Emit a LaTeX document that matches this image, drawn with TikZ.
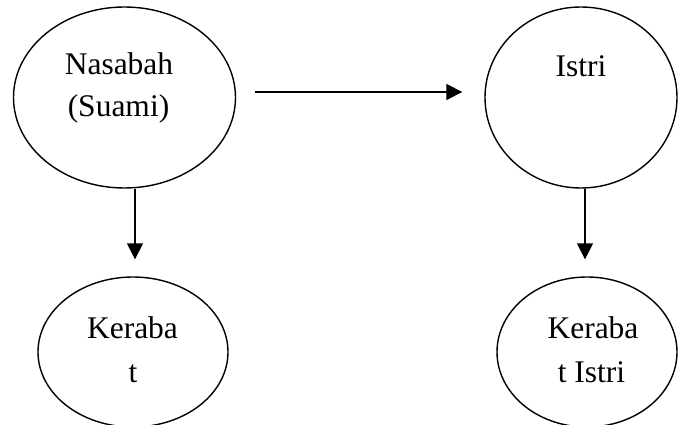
\documentclass[tikz,border=0pt]{standalone}
\usepackage{fontspec}
\setmainfont{Liberation Serif}
\usetikzlibrary{shapes.geometric,arrows.meta}
\begin{document}
\begin{tikzpicture}[x=1pt,y=-1pt,
  oval/.style={draw,ellipse,line width=1.4pt,inner sep=0pt},
  txt/.style={anchor=base,inner sep=0pt,font=\fontsize{31.5}{38}\selectfont},
  arr/.style={line width=1.6pt,-{Triangle[width=16pt,length=16pt]}}]
\useasboundingbox (0,0) rectangle (678,425);
\node[oval,minimum width=222pt,minimum height=181pt] (n1) at (124.5,97.5) {};
\node[oval,minimum width=192pt,minimum height=181pt] (n2) at (581,97.5) {};
\node[oval,minimum width=190pt,minimum height=150pt] (k1) at (133,352) {};
\node[oval,minimum width=180pt,minimum height=150pt] (k2) at (587,352) {};
\node[txt] (t1) at (119,75) {Nasabah};
\node[txt] (t2) at (118.5,117) {(Suami)};
\node[txt] (t3) at (581,77) {Istri};
\node[txt] (t4) at (132.5,338) {Keraba};
\node[txt] (t5) at (133,382) {t};
\node[txt] (t6) at (593,338) {Keraba};
\node[txt] (t7) at (591.5,382) {t Istri};
\draw[arr] ([xshift=19pt,yshift=5.5pt]n1.east) -- ([xshift=-22pt,yshift=5.5pt]n2.west);
\draw[arr] ([xshift=10.5pt]n1.south) -- ([xshift=2pt,yshift=17pt]k1.north);
\draw[arr] ([xshift=4pt]n2.south) -- ([xshift=-2pt,yshift=17pt]k2.north);
\end{tikzpicture}
\end{document}
